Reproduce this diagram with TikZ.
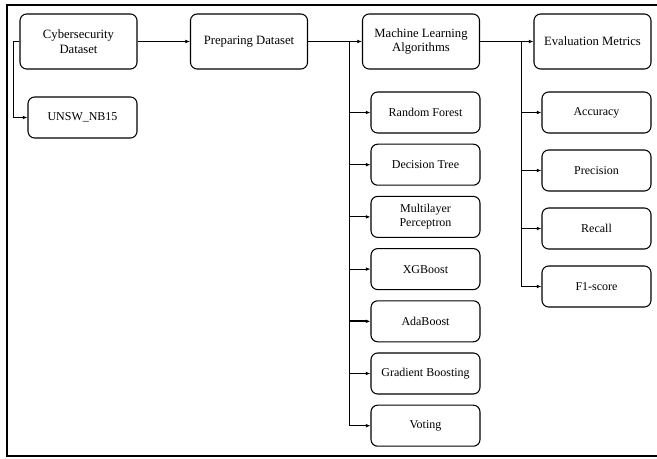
\documentclass[tikz,border=0pt]{standalone}
\usepackage{fontspec}
\setmainfont{Liberation Serif}
\usetikzlibrary{arrows.meta}

\tikzset{
  mainbox/.style={draw, line width=0.8pt, rounded corners=5pt, align=center,
    minimum width=87.75pt, minimum height=41.25pt, inner sep=1pt,
    font=\fontsize{9.5}{11}\selectfont},
  subbox/.style={draw, line width=0.8pt, rounded corners=5pt, align=center,
    minimum width=81.75pt, minimum height=30.75pt, inner sep=1pt,
    font=\fontsize{9}{10.5}\selectfont},
  arrow/.style={line width=0.6pt, -{Latex[length=3.5pt,width=2.8pt]}},
  boldarrow/.style={arrow, line width=1.2pt}
}

\begin{document}
\begin{tikzpicture}[x=0.75pt,y=-0.75pt]

\useasboundingbox (0,0) rectangle (657,459);

% outer frame
\draw[line width=1.5pt] (657,5)--(7,5)--(7,456)--(657,456);

% top row
\node[mainbox] (cyber) at (78.5,41.5) {Cybersecurity\\Dataset};
\node[mainbox] (prep) at (249,41.5) {Preparing Dataset};
\node[mainbox] (ml) at (421,41.5) {Machine Learning\\Algorithms};
\node[mainbox] (eval) at (592.5,41.5) {Evaluation Metrics};

\node[subbox] (unsw) at (82.5,117.5) {UNSW\_NB15};

% algorithms
\node[subbox] (rf) at (425.5,112.5) {Random Forest};
\node[subbox] (dt) at (425.5,164.7) {Decision Tree};
\node[subbox] (mlp) at (425.5,216.9) {Multilayer\\Perceptron};
\node[subbox] (xgb) at (425.5,269.1) {XGBoost};
\node[subbox] (ada) at (425.5,321.3) {AdaBoost};
\node[subbox] (gb) at (425.5,373.5) {Gradient Boosting};
\node[subbox] (vote) at (425.5,425.7) {Voting};

% metrics
\node[subbox] (acc) at (596.5,112.5) {Accuracy};
\node[subbox] (prec) at (596.5,170.5) {Precision};
\node[subbox] (rec) at (596.5,228.5) {Recall};
\node[subbox] (fone) at (596.5,286.5) {F1-score};

% main flow
\draw[arrow] (cyber) -- (prep);
\draw[arrow] (prep) -- (ml);
\draw[arrow] (ml) -- (eval);
\draw[arrow] (cyber.west) -- ++(-6,0) |- (unsw.west);

\coordinate (mlbus) at (349,41.5);
\coordinate (evalbus) at (521,41.5);

\draw[arrow] (mlbus) |- (vote.west);
\draw[boldarrow] (mlbus |- rf.west) -- (rf.west);
\draw[arrow] (mlbus |- dt.west) -- (dt.west);
\draw[arrow] (mlbus |- mlp.west) -- (mlp.west);
\draw[arrow] (mlbus |- xgb.west) -- (xgb.west);
\draw[boldarrow] (mlbus |- ada.west) -- (ada.west);
\draw[arrow] (mlbus |- gb.west) -- (gb.west);

\draw[arrow] (evalbus) |- (fone.west);
\draw[boldarrow] (evalbus |- acc.west) -- (acc.west);
\draw[arrow] (evalbus |- prec.west) -- (prec.west);
\draw[arrow] (evalbus |- rec.west) -- (rec.west);

\end{tikzpicture}
\end{document}
